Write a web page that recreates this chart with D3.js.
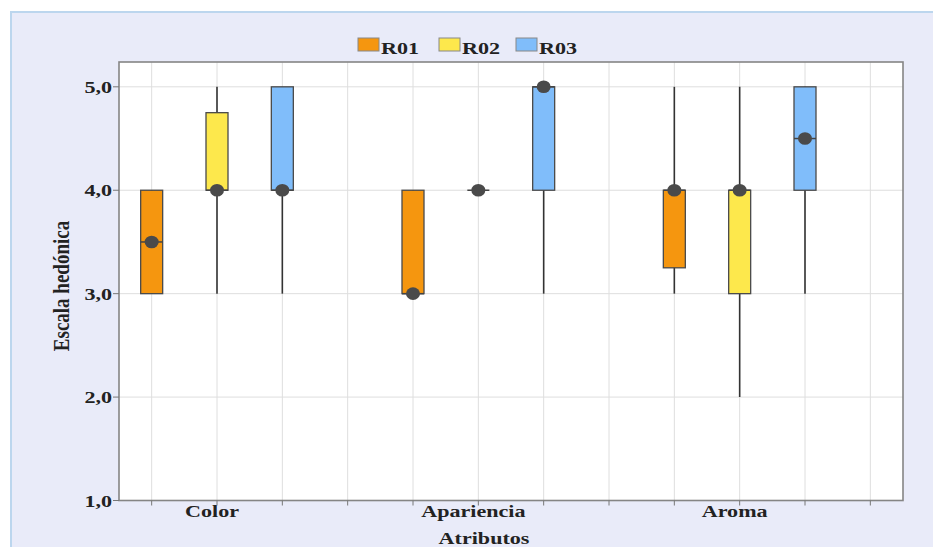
<!DOCTYPE html>
<html>
<head>
<meta charset="utf-8">
<script src="https://cdn.jsdelivr.net/npm/d3@7"></script>
<style>
  body { margin: 0; background: #fff; }
  text { font-family: "Liberation Serif", "Times New Roman", serif; font-weight: bold; fill: #222; }
</style>
</head>
<body>
<div id="chart"></div>
<script>
const categories = ['Color', 'Apariencia', 'Aroma'];
const series = ['R01', 'R02', 'R03'];
const colors = ['#f5960f', '#fde84c', '#80bdfa'];
const yTicks = [1, 2, 3, 4, 5];

// [series][category]
const whiskerMin = [[3, 3, 3], [3, 4, 2], [3, 3, 3]];
const q1 = [[3, 3, 3.25], [4, 4, 3], [4, 4, 4]];
const median = [[3.5, 3, 4], [4, 4, 4], [4, 5, 4.5]];
const q3 = [[4, 4, 4], [4.75, 4, 4], [5, 5, 5]];
const whiskerMax = [[4, 4, 5], [5, 4, 5], [5, 5, 5]];

const width = 933;
const height = 547;
const plot = { left: 119, top: 62, right: 903, bottom: 500.5 };
const stretch = 1.3;

const svg = d3.select('#chart').append('svg')
  .attr('width', width)
  .attr('height', height);

// outer panel
svg.append('rect')
  .attr('x', 11).attr('y', 12)
  .attr('width', width).attr('height', height)
  .attr('fill', '#e9ebf9');
svg.append('path')
  .attr('d', `M11,${height} V12 H${width}`)
  .attr('fill', 'none')
  .attr('stroke', '#bcd6ee')
  .attr('stroke-width', 2);

// one slot per series plus a gap slot per category
const slots = categories.flatMap(c => [...series.map(s => c + '|' + s), c + '|gap']);
const x = d3.scaleBand().domain(slots).range([plot.left, plot.right]).padding(0);
const cx = key => x(key) + x.bandwidth() / 2;

const y = d3.scaleLinear().domain([1, 5.24]).range([plot.bottom, plot.top]);

svg.append('rect')
  .attr('x', plot.left).attr('y', plot.top)
  .attr('width', plot.right - plot.left).attr('height', plot.bottom - plot.top)
  .attr('fill', '#fff');

// grid
svg.append('g').selectAll('line')
  .data(slots)
  .enter().append('line')
  .attr('x1', d => cx(d)).attr('x2', d => cx(d))
  .attr('y1', plot.top).attr('y2', plot.bottom)
  .attr('stroke', '#dedede');
svg.append('g').selectAll('line')
  .data(yTicks.slice(1))
  .enter().append('line')
  .attr('x1', plot.left).attr('x2', plot.right)
  .attr('y1', d => y(d)).attr('y2', d => y(d))
  .attr('stroke', '#dedede');

// boxes
const boxW = 22;
series.forEach((s, si) => {
  const g = svg.append('g');
  const rows = categories.map((c, ci) => ({
    key: c + '|' + s,
    min: whiskerMin[si][ci], q1: q1[si][ci], med: median[si][ci],
    q3: q3[si][ci], max: whiskerMax[si][ci]
  }));

  g.selectAll('line.whisker')
    .data(rows)
    .enter().append('line')
    .attr('class', 'whisker')
    .attr('x1', d => cx(d.key)).attr('x2', d => cx(d.key))
    .attr('y1', d => y(d.min)).attr('y2', d => y(d.max))
    .attr('stroke', '#333')
    .attr('stroke-width', 1.6);

  g.selectAll('rect')
    .data(rows)
    .enter().append('rect')
    .attr('x', d => cx(d.key) - boxW / 2)
    .attr('y', d => y(d.q3))
    .attr('width', boxW)
    .attr('height', d => y(d.q1) - y(d.q3))
    .attr('fill', colors[si])
    .attr('stroke', '#4a4a4a')
    .attr('stroke-width', 1.3);

  g.selectAll('line.median')
    .data(rows)
    .enter().append('line')
    .attr('class', 'median')
    .attr('x1', d => cx(d.key) - boxW / 2).attr('x2', d => cx(d.key) + boxW / 2)
    .attr('y1', d => y(d.med)).attr('y2', d => y(d.med))
    .attr('stroke', '#444')
    .attr('stroke-width', 1.5);

  g.selectAll('ellipse')
    .data(rows)
    .enter().append('ellipse')
    .attr('cx', d => cx(d.key))
    .attr('cy', d => y(d.med))
    .attr('rx', 7).attr('ry', 6.3)
    .attr('fill', '#4a4a4a');
});

// frame
svg.append('rect')
  .attr('x', plot.left).attr('y', plot.top)
  .attr('width', plot.right - plot.left).attr('height', plot.bottom - plot.top)
  .attr('fill', 'none')
  .attr('stroke', '#858585')
  .attr('stroke-width', 1.6);

// y axis
const fmt = d => d3.format('.1f')(d).replace('.', ',');
const yAxis = svg.append('g');
yAxis.selectAll('line')
  .data(yTicks)
  .enter().append('line')
  .attr('x1', plot.left - 6).attr('x2', plot.left)
  .attr('y1', d => y(d)).attr('y2', d => y(d))
  .attr('stroke', '#777');
yAxis.selectAll('text')
  .data(yTicks)
  .enter().append('text')
  .attr('transform', d => `translate(${plot.left - 7},${y(d) + 6}) scale(${stretch},1)`)
  .attr('text-anchor', 'end')
  .style('font-size', '17px')
  .text(fmt);

// x axis ticks and labels
svg.append('g').selectAll('line')
  .data(slots)
  .enter().append('line')
  .attr('x1', d => cx(d)).attr('x2', d => cx(d))
  .attr('y1', plot.bottom).attr('y2', plot.bottom + 5)
  .attr('stroke', '#777');
svg.append('g').selectAll('text')
  .data(categories)
  .enter().append('text')
  .attr('transform', c => `translate(${cx(c + '|R02') - 5},517) scale(${stretch},1)`)
  .attr('text-anchor', 'middle')
  .style('font-size', '17px')
  .text(c => c);

svg.append('text')
  .attr('transform', `translate(484,544) scale(${stretch},1)`)
  .attr('text-anchor', 'middle')
  .style('font-size', '17px')
  .text('Atributos');

svg.append('text')
  .attr('transform', `translate(69,286) scale(1.2,1) rotate(-90)`)
  .attr('text-anchor', 'middle')
  .style('font-size', '19px')
  .text('Escala hedónica');

// legend
const legendX = [358, 439, 516];
const legend = svg.append('g').selectAll('g')
  .data(series)
  .enter().append('g')
  .attr('transform', (d, i) => `translate(${legendX[i]},38)`);
legend.append('rect')
  .attr('width', 21).attr('height', 13)
  .attr('fill', (d, i) => colors[i])
  .attr('stroke', '#888');
legend.append('text')
  .attr('transform', `translate(23,16) scale(${stretch},1)`)
  .style('font-size', '17px')
  .text(d => d);
</script>
</body>
</html>
